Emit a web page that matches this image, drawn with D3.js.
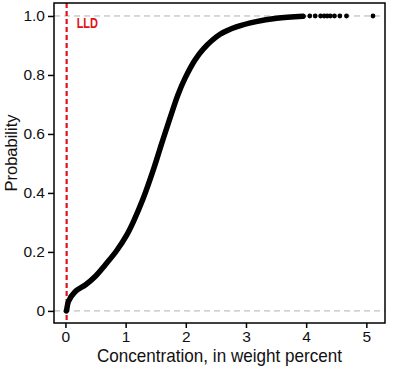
<!DOCTYPE html>
<html>
<head>
<meta charset="utf-8">
<script src="https://cdn.jsdelivr.net/npm/d3@7"></script>
<style>
  body { margin: 0; background: #fff; }
  text { font-family: "Liberation Sans", Arial, sans-serif; }
</style>
</head>
<body>
<script>
const concentration = [0.015, 0.02, 0.05, 0.16, 0.33, 0.49, 0.66, 0.85, 1.02, 1.13, 1.29, 1.46, 1.60, 1.74, 1.87, 1.99, 2.15, 2.29, 2.57, 2.84, 3.17, 3.51, 3.95]
const probability = [0.0, 0.003, 0.032, 0.065, 0.088, 0.116, 0.156, 0.204, 0.258, 0.303, 0.38, 0.478, 0.568, 0.655, 0.733, 0.79, 0.85, 0.888, 0.938, 0.963, 0.981, 0.992, 0.999]
// Isolated high values in the tail
const tailValues = [4.06, 4.15, 4.24, 4.30, 4.35, 4.40, 4.47, 4.56, 4.67, 5.11]
const tailProb = [1, 1, 1, 1, 1, 1, 1, 1, 1, 1]
const lld = 0.02
const xTicks = [0, 1, 2, 3, 4, 5]
const yTicks = [0, 0.2, 0.4, 0.6, 0.8, 1.0]

const width = 396
const height = 374
const margin = { top: 3, right: 11, bottom: 51, left: 54 }

const svg = d3.select('body')
  .append('svg')
  .attr('width', width)
  .attr('height', height)

const x = d3.scaleLinear()
  .domain([-0.19, 5.31])
  .range([margin.left, width - margin.right])

const y = d3.scaleLinear()
  .domain([-0.041, 1.044])
  .range([height - margin.bottom, margin.top])

// reference lines at 0 and 1
svg.selectAll('.ref')
  .data([0, 1])
  .enter()
  .append('line')
  .attr('x1', margin.left)
  .attr('x2', width - margin.right)
  .attr('y1', (d) => y(d))
  .attr('y2', (d) => y(d))
  .attr('stroke', '#b0b0b0')
  .attr('stroke-width', 1)
  .attr('stroke-dasharray', '6,4')

// LLD line
svg.append('line')
  .attr('x1', x(lld))
  .attr('x2', x(lld))
  .attr('y1', margin.top)
  .attr('y2', height - margin.bottom)
  .attr('stroke', '#e0111b')
  .attr('stroke-width', 2.2)
  .attr('stroke-dasharray', '5,3')

svg.append('text')
  .attr('transform', `translate(${x(lld) + 10}, 28.3) scale(0.76, 1)`)
  .attr('fill', '#e0111b')
  .attr('font-size', 14.5)
  .attr('font-weight', 'bold')
  .text('LLD')

// CDF curve
const pts = concentration.map((c, i) => [c, probability[i]])
svg.append('path')
  .datum(pts)
  .attr('fill', 'none')
  .attr('stroke', '#000')
  .attr('stroke-width', 5.5)
  .attr('stroke-linecap', 'round')
  .attr('stroke-linejoin', 'round')
  .attr('d', d3.line()
    .x((d) => x(d[0]))
    .y((d) => y(d[1]))
    .curve(d3.curveCatmullRom.alpha(0.5)))

svg.selectAll('.tail')
  .data(tailValues.map((v, i) => [v, tailProb[i]]))
  .enter()
  .append('circle')
  .attr('cx', (d) => x(d[0]))
  .attr('cy', (d) => y(d[1]))
  .attr('r', 2.4)
  .attr('fill', '#000')

// axes
const xAxis = svg.append('g')
  .attr('transform', `translate(0, ${height - margin.bottom})`)
  .call(d3.axisBottom(x).tickValues(xTicks).tickSize(5).tickPadding(4).tickFormat(d3.format('d')))
xAxis.select('.domain').remove()
xAxis.selectAll('line').attr('stroke-width', 1.5)
xAxis.selectAll('text')
  .attr('font-size', 15.5)
  .attr('fill', '#111')
  .attr('dy', null)
  .attr('y', 19)

const yAxis = svg.append('g')
  .attr('transform', `translate(${margin.left}, 0)`)
  .call(d3.axisLeft(y).tickValues(yTicks).tickSize(6).tickPadding(3)
    .tickFormat((d) => (d === 0 ? '0' : d3.format('.1f')(d))))
yAxis.select('.domain').remove()
yAxis.selectAll('line').attr('stroke-width', 1.5)
yAxis.selectAll('text').attr('font-size', 15.5).attr('fill', '#111')

// frame
svg.append('rect')
  .attr('x', margin.left)
  .attr('y', margin.top)
  .attr('width', width - margin.left - margin.right)
  .attr('height', height - margin.top - margin.bottom)
  .attr('fill', 'none')
  .attr('stroke', '#000')
  .attr('stroke-width', 1.5)

// axis titles
svg.append('text')
  .attr('transform', `translate(${(margin.left + width - margin.right) / 2}, 361.5) scale(0.95, 1)`)
  .attr('text-anchor', 'middle')
  .attr('font-size', 18)
  .attr('fill', '#111')
  .text('Concentration, in weight percent')

svg.append('text')
  .attr('transform', `translate(17, 153) rotate(-90)`)
  .attr('text-anchor', 'middle')
  .attr('font-size', 16.5)
  .attr('fill', '#111')
  .text('Probability')
</script>
</body>
</html>
